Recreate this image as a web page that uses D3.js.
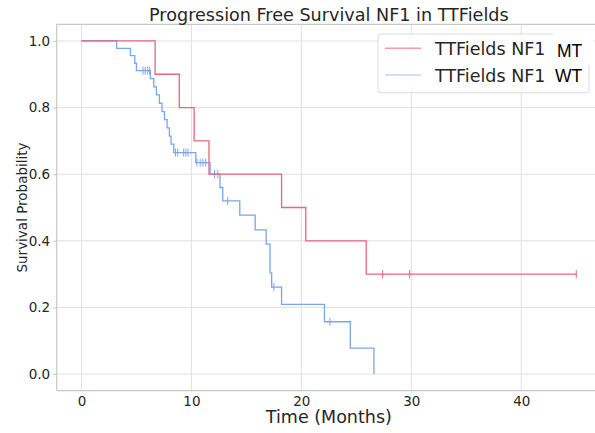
<!DOCTYPE html>
<html>
<head>
<meta charset="utf-8">
<script src="https://cdn.jsdelivr.net/npm/d3@7"></script>
<style>
  html, body { margin: 0; padding: 0; background: #ffffff; }
  svg { display: block; }
</style>
</head>
<body>
<svg id="chart" width="595" height="433"></svg>
<script>
// ---- data ----
const titleText = "Progression Free Survival NF1 in TTFields";
const xLabelText = "Time (Months)";
const yLabelText = "Survival Probability";
const xTicks = [0, 10, 20, 30, 40];
const yTicks = [0.0, 0.2, 0.4, 0.6, 0.8, 1.0];
const seriesNames = ["TTFields NF1", "TTFields NF1"];
const seriesSuffix = ["MT", "WT"];

// NF1 MT: Kaplan–Meier step points (time, survival after step)
const mtTimes = [0, 6.7, 8.9, 10.25, 11.6, 18.2, 20.4, 25.9, 45.0];
const mtSurv  = [1.0, 0.9, 0.8, 0.7, 0.6, 0.5, 0.4, 0.3, 0.3];
const mtCensor = [27.4, 29.85, 45.0];

// NF1 WT: Kaplan–Meier step points
const wtTimes = [0, 3.2, 4.45, 4.85, 5.0, 6.27, 6.58, 6.82, 7.09, 7.33, 7.55, 7.79, 8.0, 8.15, 8.4,
                 10.4, 11.7, 12.6, 12.85, 14.4, 15.8, 16.8, 17.15, 17.3, 18.2, 22.1, 24.45, 26.6];
const wtSurv  = [1.0, 0.978, 0.956, 0.933, 0.911, 0.887, 0.862, 0.838, 0.813, 0.788, 0.764, 0.739, 0.714, 0.690, 0.665,
                 0.635, 0.600, 0.560, 0.520, 0.477, 0.433, 0.390, 0.304, 0.261, 0.209, 0.157, 0.078, 0.0];
const wtCensor = [5.6, 5.8, 6.03, 6.2, 8.55, 8.75, 9.3, 9.5, 9.7, 10.5, 10.8, 11.05, 11.3, 12.1, 12.4, 13.3, 17.5, 22.6];

(function () {
// ---- layout ----
const svg = d3.select("#chart");
const pLeft = 56.7, pRight = 601, pTop = 24.3, pBottom = 390.7;
const x = d3.scaleLinear().domain([-2.25, 47.25]).range([pLeft, pRight]);
const y = d3.scaleLinear().domain([-0.05, 1.05]).range([pBottom, pTop]);

const textColor = "#262626";
const gridColor = "#e0e0e0";
const spineColor = "#c8c8c8";
const mtColor = "#e8667c";
const wtColor = "#7aa4ec";

// clip
svg.append("defs").append("clipPath").attr("id", "plotclip")
  .append("rect").attr("x", pLeft).attr("y", pTop).attr("width", pRight - pLeft).attr("height", pBottom - pTop);

// grid
const grid = svg.append("g");
grid.selectAll("line.vx").data(xTicks).join("line").attr("class", "vx")
  .attr("x1", d => x(d)).attr("x2", d => x(d)).attr("y1", pTop).attr("y2", pBottom)
  .attr("stroke", gridColor).attr("stroke-width", 1);
grid.selectAll("line.hy").data(yTicks).join("line").attr("class", "hy")
  .attr("x1", pLeft).attr("x2", pRight).attr("y1", d => y(d)).attr("y2", d => y(d))
  .attr("stroke", gridColor).attr("stroke-width", 1);

// axes
const xAxis = d3.axisBottom(x).tickValues(xTicks).tickFormat(d3.format("d")).tickSize(0).tickPadding(6);
const yAxis = d3.axisLeft(y).tickValues(yTicks).tickFormat(d3.format(".1f")).tickSize(3.5).tickPadding(3);

const gx = svg.append("g").attr("transform", `translate(0,${pBottom})`).call(xAxis);
gx.select(".domain").remove();
gx.selectAll("text").attr("fill", textColor).style("font-family", "DejaVu Sans").style("font-size", "13.5px");

const gy = svg.append("g").attr("transform", `translate(${pLeft},0)`).call(yAxis);
gy.select(".domain").remove();
gy.selectAll("line").attr("stroke", spineColor);
gy.selectAll("text").attr("fill", textColor).style("font-family", "DejaVu Sans").style("font-size", "13.5px");

// spines
const spines = svg.append("g").attr("stroke", spineColor).attr("stroke-width", 1.25);
spines.append("line").attr("x1", pLeft).attr("x2", pLeft).attr("y1", pTop).attr("y2", pBottom);
spines.append("line").attr("x1", pLeft).attr("x2", pRight).attr("y1", pBottom).attr("y2", pBottom);
spines.append("line").attr("x1", pLeft).attr("x2", pRight).attr("y1", pTop).attr("y2", pTop);

// curves
const plot = svg.append("g").attr("clip-path", "url(#plotclip)");
const stepLine = d3.line().x(d => x(d[0])).y(d => y(d[1])).curve(d3.curveStepAfter);

function survAt(times, surv, t) {
  let s = surv[0];
  for (let i = 0; i < times.length; i++) if (times[i] <= t) s = surv[i];
  return s;
}

function drawSeries(times, surv, censor, color) {
  const pts = times.map((t, i) => [t, surv[i]]);
  const g = plot.append("g");
  g.append("path").datum(pts).attr("d", stepLine)
    .attr("fill", "none").attr("stroke", color).attr("stroke-width", 1.3);
  g.selectAll("line").data(censor).join("line")
    .attr("x1", d => x(d)).attr("x2", d => x(d))
    .attr("y1", d => y(survAt(times, surv, d)) - 4).attr("y2", d => y(survAt(times, surv, d)) + 4)
    .attr("stroke", color).attr("stroke-width", 1);
}
drawSeries(wtTimes, wtSurv, wtCensor, wtColor);
drawSeries(mtTimes, mtSurv, mtCensor, mtColor);

// title and labels
svg.append("text").attr("x", (pLeft + pRight) / 2).attr("y", 20.7).attr("text-anchor", "middle")
  .attr("fill", textColor).style("font-family", "DejaVu Sans").style("font-size", "17.6px").text(titleText);
svg.append("text").attr("x", (pLeft + pRight) / 2).attr("y", 422.7).attr("text-anchor", "middle")
  .attr("fill", textColor).style("font-family", "DejaVu Sans").style("font-size", "17.5px").text(xLabelText);
svg.append("text").attr("transform", `translate(27,${(pTop + pBottom) / 2}) rotate(-90)`).attr("text-anchor", "middle")
  .attr("fill", textColor).style("font-family", "DejaVu Sans").style("font-size", "13.5px").text(yLabelText);

// legend
const lg = svg.append("g");
lg.append("rect").attr("x", 378).attr("y", 34).attr("width", 211).attr("height", 58.7).attr("rx", 3)
  .attr("fill", "#ffffff").attr("fill-opacity", 0.85).attr("stroke", "#dcdcdc").attr("stroke-width", 1);
const legendColors = ["#f29dab", "#c3d4f4"];
const rowY = [48.3, 75];
seriesNames.forEach((name, i) => {
  lg.append("line").attr("x1", 385).attr("x2", 421).attr("y1", rowY[i]).attr("y2", rowY[i])
    .attr("stroke", legendColors[i]).attr("stroke-width", 1.5);
  lg.append("text").attr("x", 435).attr("y", rowY[i] + 6.5).attr("fill", textColor)
    .style("font-family", "DejaVu Sans").style("font-size", "17.5px").text(name);
});
// overlaid suffix labels
lg.append("rect").attr("x", 553).attr("y", 32.5).attr("width", 40).attr("height", 32.5).attr("fill", "#ffffff");
lg.append("text").attr("x", 557).attr("y", 56.7).attr("fill", "#000000")
  .style("font-family", "Liberation Sans").style("font-size", "17.5px").text(seriesSuffix[0]);
lg.append("text").attr("x", 555).attr("y", 81.7).attr("fill", "#000000")
  .style("font-family", "Liberation Sans").style("font-size", "17.5px").text(seriesSuffix[1]);
})();
</script>
</body>
</html>
